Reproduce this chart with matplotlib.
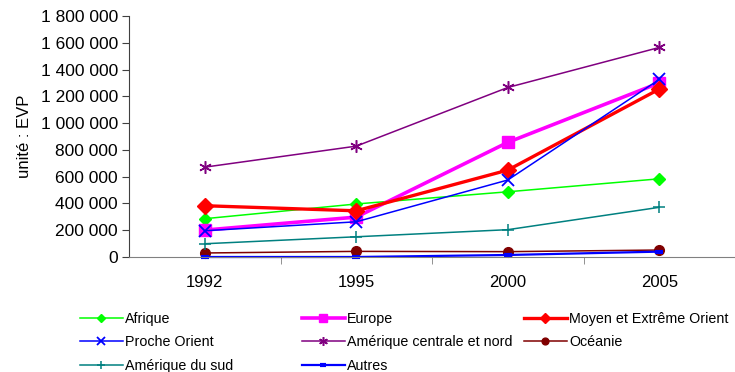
import matplotlib
matplotlib.use("Agg")
import matplotlib.pyplot as plt
from matplotlib.lines import Line2D
from matplotlib.ticker import FuncFormatter, MultipleLocator, FixedLocator

plt.rcParams['font.family'] = ['Liberation Sans', 'DejaVu Sans']

years = ["1992", "1995", "2000", "2005"]

afrique = [286000, 396000, 487000, 584000]
europe = [201000, 298000, 856000, 1300000]
moyen_extreme_orient = [383000, 345000, 649000, 1254000]
proche_orient = [196000, 263000, 575000, 1326000]
amerique_centrale_nord = [671000, 828000, 1266000, 1565000]
oceanie = [30000, 42000, 40000, 52000]
amerique_sud = [99000, 151000, 204000, 371000]
autres = [0, 0, 15000, 40000]

series = [
    ("Afrique", afrique, dict(color="#00FF00", marker="D", ms=6, lw=1.1)),
    ("Europe", europe, dict(color="#FF00FF", marker="s", ms=9, lw=2.6)),
    ("Moyen et Extrême Orient", moyen_extreme_orient, dict(color="#FF0000", marker="D", ms=8, lw=2.4)),
    ("Proche Orient", proche_orient, dict(color="#0000FF", marker="x", ms=8, mew=1.3, lw=1.1)),
    ("Amérique centrale et nord", amerique_centrale_nord, dict(color="#800080", marker=(6, 2, 0), ms=9, mew=1.1, lw=1.1)),
    ("Océanie", oceanie, dict(color="#800000", marker="o", ms=7, lw=1.1)),
    ("Amérique du sud", amerique_sud, dict(color="#008080", marker="+", ms=9, mew=1.1, lw=1.1)),
    ("Autres", autres, dict(color="#0000FF", marker="_", ms=6, mew=3, lw=1.6)),
]

fig = plt.figure(figsize=(7.35, 3.72), dpi=100)
ax = fig.add_axes([129 / 735, 1 - 257 / 372, 1 - 129 / 735, (257 - 16) / 372])

x = list(range(len(years)))
handles = {}
for name, vals, style in series:
    (h,) = ax.plot(x, vals, label=name, clip_on=False, **style)
    handles[name] = h

ax.set_xlim(-0.5, len(years) - 0.5)
ax.set_ylim(0, 1800000)
ax.yaxis.set_major_locator(MultipleLocator(200000))
ax.yaxis.set_major_formatter(FuncFormatter(lambda v, p: f"{int(v):,}".replace(",", " ")))
ax.set_ylabel("unité : EVP", fontsize=12, labelpad=6)

ax.set_xticks(x)
ax.set_xticklabels(years)
ax.xaxis.set_minor_locator(FixedLocator([i + 0.5 for i in x[:-1]]))
ax.tick_params(axis="x", which="major", length=0, pad=13, labelsize=12)
ax.tick_params(axis="x", which="minor", length=5, direction="out", color="#808080")
ax.tick_params(axis="y", length=5, direction="out", labelsize=12.5, pad=3, color="#404040")

ax.spines["top"].set_visible(False)
ax.spines["right"].set_visible(False)
ax.spines["left"].set_color("#404040")
ax.spines["bottom"].set_color("#808080")

# legend drawn as three stacked columns of equal pitch
columns = [
    (["Afrique", "Proche Orient", "Amérique du sud"], 80),
    (["Europe", "Amérique centrale et nord", "Autres"], 302),
    (["Moyen et Extrême Orient", "Océanie"], 524),
]
for names, xpix in columns:
    hs = []
    for n in names:
        h = handles[n]
        hs.append(Line2D([], [], color=h.get_color(), lw=h.get_linewidth(),
                         marker=h.get_marker(), ms=h.get_markersize() * 0.7,
                         mew=h.get_markeredgewidth()))
    fig.legend(hs, names, loc="upper left",
               bbox_to_anchor=(xpix / 735, 1 - 312 / 372),
               frameon=False, fontsize=10.3, handlelength=3.0,
               handletextpad=0.15, borderpad=0, borderaxespad=0,
               labelspacing=0.65)

fig.savefig("out.png", dpi=100)
